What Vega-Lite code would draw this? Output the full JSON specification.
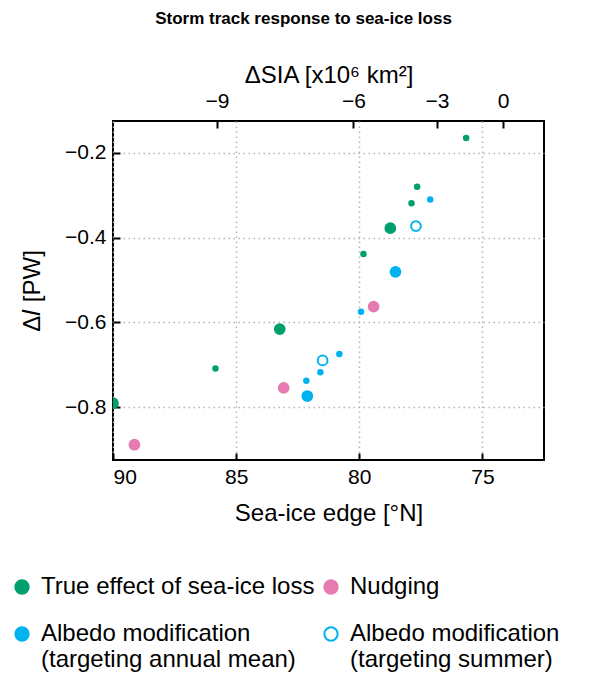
{
  "$schema": "https://vega.github.io/schema/vega-lite/v6.json",
  "width": 431,
  "height": 339,
  "padding": {"left": 10, "top": 10, "right": 60, "bottom": 2},
  "background": "#ffffff",
  "title": {
    "text": "Storm track response to sea-ice loss",
    "font": "Liberation Sans",
    "fontSize": 17,
    "fontWeight": "bold",
    "color": "#000000",
    "anchor": "middle",
    "dx": -25,
    "offset": 35
  },
  "config": {
    "view": {"stroke": "#000000", "strokeWidth": 2},
    "axis": {
      "domain": false,
      "tickColor": "#000000",
      "tickWidth": 2,
      "tickSize": -7,
      "labelFont": "Liberation Sans",
      "labelFontSize": 21,
      "labelColor": "#000000",
      "titleFont": "Liberation Sans",
      "titleFontSize": 24,
      "titleFontWeight": "normal",
      "titleColor": "#000000",
      "gridColor": "#b5b5b5",
      "gridDash": [1.5, 3.5],
      "gridWidth": 1.5
    },
    "legend": {
      "labelFont": "Liberation Sans",
      "labelFontSize": 24,
      "labelColor": "#000000"
    }
  },
  "data": {
    "values": [
      {"edge": 75.66, "dI": -0.165, "exp": "True effect of sea-ice loss", "marker": "small"},
      {"edge": 77.65, "dI": -0.280, "exp": "True effect of sea-ice loss", "marker": "small"},
      {"edge": 77.88, "dI": -0.319, "exp": "True effect of sea-ice loss", "marker": "small"},
      {"edge": 78.74, "dI": -0.378, "exp": "True effect of sea-ice loss", "marker": "big"},
      {"edge": 79.83, "dI": -0.439, "exp": "True effect of sea-ice loss", "marker": "small"},
      {"edge": 83.23, "dI": -0.616, "exp": "True effect of sea-ice loss", "marker": "big"},
      {"edge": 85.84, "dI": -0.709, "exp": "True effect of sea-ice loss", "marker": "small"},
      {"edge": 90.0, "dI": -0.791, "exp": "True effect of sea-ice loss", "marker": "big"},
      {"edge": 77.12, "dI": -0.310, "exp": "Albedo modification (targeting annual mean)", "marker": "small"},
      {"edge": 78.53, "dI": -0.481, "exp": "Albedo modification (targeting annual mean)", "marker": "big"},
      {"edge": 79.93, "dI": -0.575, "exp": "Albedo modification (targeting annual mean)", "marker": "small"},
      {"edge": 80.81, "dI": -0.675, "exp": "Albedo modification (targeting annual mean)", "marker": "small"},
      {"edge": 81.58, "dI": -0.718, "exp": "Albedo modification (targeting annual mean)", "marker": "small"},
      {"edge": 82.15, "dI": -0.738, "exp": "Albedo modification (targeting annual mean)", "marker": "small"},
      {"edge": 82.11, "dI": -0.774, "exp": "Albedo modification (targeting annual mean)", "marker": "big"},
      {"edge": 77.70, "dI": -0.373, "exp": "Albedo modification (targeting summer)", "marker": "big"},
      {"edge": 81.49, "dI": -0.690, "exp": "Albedo modification (targeting summer)", "marker": "big"},
      {"edge": 79.42, "dI": -0.563, "exp": "Nudging", "marker": "big"},
      {"edge": 83.07, "dI": -0.755, "exp": "Nudging", "marker": "big"},
      {"edge": 89.13, "dI": -0.889, "exp": "Nudging", "marker": "big"}
    ]
  },
  "resolve": {"axis": {"x": "independent"}},
  "layer": [
    {
      "mark": {"type": "point", "shape": "circle", "strokeWidth": 2, "opacity": 1, "clip": true},
      "encoding": {
        "x": {
          "field": "edge",
          "type": "quantitative",
          "scale": {"domain": [90, 72.5], "nice": false, "zero": false},
          "axis": {
            "orient": "bottom",
            "values": [90, 85, 80, 75],
            "format": "d",
            "title": "Sea-ice edge [°N]",
            "labelPadding": 13,
            "titlePadding": 14,
            "grid": true
          }
        },
        "y": {
          "field": "dI",
          "type": "quantitative",
          "scale": {"domain": [-0.925, -0.125], "nice": false, "zero": false},
          "axis": {
            "values": [-0.2, -0.4, -0.6, -0.8],
            "format": ".1f",
            "title": "Δ𝐼 [PW]",
            "labelPadding": 14,
            "titlePadding": 20,
            "grid": true
          }
        },
        "fill": {
          "field": "exp",
          "type": "nominal",
          "title": null,
          "scale": {
            "domain": ["True effect of sea-ice loss", "Nudging", "Albedo modification (targeting annual mean)", "Albedo modification (targeting summer)"],
            "range": ["#00A06E", "#E57BB0", "#00B2F0", "#ffffff"]
          },
          "legend": {
            "orient": "none",
            "direction": "horizontal",
            "legendX": -103,
            "legendY": 454,
            "columns": 2,
            "columnPadding": 4,
            "rowPadding": 23,
            "symbolType": "circle",
            "symbolSize": 177,
            "symbolStrokeWidth": 2,
            "labelOffset": 7,
            "labelLimit": 400,
            "labelBaseline": "middle",
            "labelExpr": "datum.label == 'Albedo modification (targeting annual mean)' ? ['Albedo modification', '(targeting annual mean)'] : datum.label == 'Albedo modification (targeting summer)' ? ['Albedo modification', '(targeting summer)'] : datum.label"
          }
        },
        "stroke": {
          "field": "exp",
          "type": "nominal",
          "title": null,
          "scale": {
            "domain": ["True effect of sea-ice loss", "Nudging", "Albedo modification (targeting annual mean)", "Albedo modification (targeting summer)"],
            "range": ["#00A06E", "#E57BB0", "#00B2F0", "#00B2F0"]
          }
        },
        "size": {
          "field": "marker",
          "type": "nominal",
          "scale": {"domain": ["big", "small"], "range": [95, 20]},
          "legend": null
        }
      }
    },
    {
      "mark": {"type": "point", "opacity": 0},
      "encoding": {
        "x": {
          "field": "edge",
          "type": "quantitative",
          "axis": {
            "orient": "top",
            "values": [85.78, 80.24, 76.85, 74.16],
            "labelExpr": "datum.value > 85 ? '−9' : datum.value > 80 ? '−6' : datum.value > 76 ? '−3' : '0'",
            "title": "ΔSIA [x10⁶ km²]",
            "labelPadding": 17,
            "titlePadding": 3,
            "grid": false
          }
        },
        "y": {"field": "dI", "type": "quantitative"}
      }
    }
  ]
}
